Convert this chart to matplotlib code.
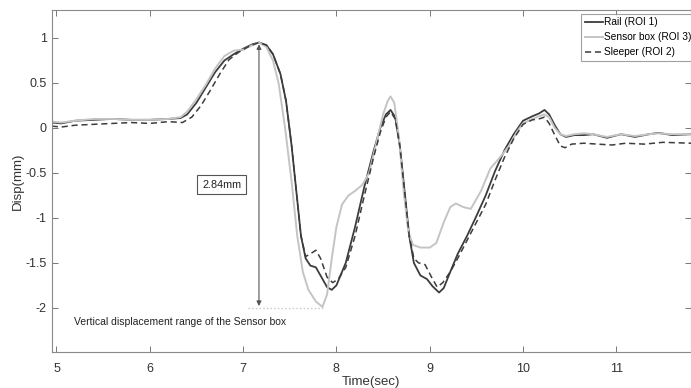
import matplotlib.pyplot as plt

plt.rcParams['font.family'] = ['Liberation Sans', 'DejaVu Sans']

# Rail (ROI 1)
t_rail = [4.95, 5.05, 5.2, 5.4, 5.6, 5.8, 6.0, 6.2, 6.33, 6.4, 6.5, 6.6, 6.7, 6.8, 6.9,
          7.0, 7.1, 7.17, 7.25, 7.32, 7.4, 7.46, 7.52, 7.57, 7.62, 7.67, 7.72, 7.78,
          7.84, 7.9, 7.95, 8.0, 8.1, 8.2, 8.3, 8.4, 8.47, 8.53, 8.58, 8.63, 8.68, 8.73,
          8.78, 8.83, 8.9, 8.97, 9.03, 9.1, 9.15, 9.22, 9.3, 9.4, 9.5, 9.6, 9.7, 9.8,
          9.9, 10.0, 10.1, 10.17, 10.23, 10.28, 10.34, 10.4, 10.46, 10.55, 10.65, 10.75,
          10.9, 11.05, 11.2, 11.35, 11.45, 11.6, 11.8]
d_rail = [0.06, 0.05, 0.08, 0.09, 0.1, 0.09, 0.09, 0.1, 0.11, 0.15, 0.28, 0.45, 0.62, 0.75, 0.82,
          0.88, 0.93, 0.95, 0.92, 0.82, 0.6, 0.3, -0.2, -0.7, -1.2, -1.45, -1.53, -1.55,
          -1.66, -1.77, -1.8, -1.75, -1.5, -1.1, -0.65, -0.25, 0.0, 0.15, 0.2, 0.12, -0.2, -0.7,
          -1.2, -1.5, -1.64, -1.68, -1.76, -1.83, -1.78, -1.6, -1.4, -1.2, -0.98, -0.75, -0.48, -0.25,
          -0.07, 0.08, 0.13, 0.16, 0.2, 0.15, 0.03, -0.07, -0.1, -0.08, -0.08, -0.07,
          -0.11, -0.07, -0.1, -0.07, -0.055, -0.08, -0.07]

# Sensor box (ROI 3)
t_box = [4.95, 5.05, 5.2, 5.4, 5.6, 5.8, 6.0, 6.2, 6.33, 6.4, 6.5, 6.6, 6.7, 6.8, 6.9,
         7.0, 7.1, 7.17, 7.25, 7.32, 7.38, 7.45, 7.52, 7.58, 7.64, 7.7, 7.78, 7.85,
         7.9, 7.95, 8.0, 8.06, 8.13, 8.2, 8.28, 8.35, 8.42, 8.5, 8.55, 8.58, 8.62, 8.67,
         8.72, 8.77, 8.82, 8.9, 9.0, 9.07, 9.15, 9.22, 9.28, 9.36, 9.44, 9.55, 9.65, 9.75,
         9.85, 9.93, 10.0, 10.1, 10.17, 10.23, 10.28, 10.34, 10.4, 10.46, 10.55, 10.65,
         10.75, 10.9, 11.05, 11.2, 11.35, 11.45, 11.6, 11.8]
d_box = [0.07, 0.06, 0.08, 0.1, 0.1, 0.09, 0.09, 0.1, 0.12, 0.18, 0.32, 0.48, 0.66, 0.8, 0.86,
         0.87, 0.92, 0.95, 0.9, 0.75, 0.5, 0.0, -0.6, -1.2, -1.6, -1.8, -1.93, -1.99,
         -1.85, -1.45, -1.1, -0.85, -0.75, -0.7, -0.63, -0.5, -0.2, 0.15, 0.3, 0.35, 0.28, -0.1,
         -0.7, -1.15, -1.3, -1.33, -1.33, -1.28, -1.05, -0.88, -0.84, -0.88, -0.9, -0.7, -0.45, -0.33,
         -0.2, -0.05, 0.05, 0.1, 0.13, 0.15, 0.12, 0.0, -0.07, -0.09, -0.07, -0.06,
         -0.07, -0.1, -0.07, -0.09, -0.07, -0.06, -0.07, -0.07]

# Sleeper (ROI 2)
t_slp = [4.95, 5.05, 5.2, 5.4, 5.6, 5.8, 6.0, 6.2, 6.35, 6.45, 6.55, 6.65, 6.75, 6.85, 6.95,
         7.05, 7.12, 7.17, 7.25, 7.32, 7.4, 7.46, 7.52, 7.57, 7.62, 7.67, 7.72, 7.78,
         7.83, 7.9, 7.96, 8.02, 8.1, 8.2, 8.3, 8.4, 8.47, 8.53, 8.58, 8.63, 8.68, 8.73,
         8.78, 8.83, 8.88, 8.95, 9.02, 9.08, 9.14, 9.22, 9.3, 9.4, 9.5, 9.6, 9.7, 9.8,
         9.9, 10.0, 10.1, 10.17, 10.23, 10.28, 10.34, 10.4, 10.45, 10.52, 10.65, 10.8,
         10.95, 11.1, 11.3, 11.5, 11.8]
d_slp = [0.02, 0.01, 0.03, 0.04, 0.05, 0.06, 0.05, 0.07, 0.06, 0.12, 0.25, 0.42, 0.6, 0.76, 0.84,
         0.9, 0.93, 0.95, 0.92, 0.82, 0.6, 0.3, -0.2, -0.7, -1.2, -1.43, -1.4, -1.36,
         -1.45, -1.66, -1.72, -1.68, -1.55, -1.2, -0.75, -0.32, -0.05, 0.12, 0.18, 0.1, -0.2, -0.7,
         -1.2, -1.45, -1.5, -1.52, -1.66, -1.77, -1.72, -1.6, -1.45, -1.25, -1.05, -0.85, -0.58, -0.33,
         -0.12, 0.04, 0.09, 0.1, 0.12, 0.05, -0.08, -0.2, -0.22, -0.18, -0.17, -0.18,
         -0.19, -0.17, -0.18, -0.16, -0.17]

peak_t = 7.17
box_max = 0.95
box_min = -2.0

fig = plt.figure(figsize=(6.91, 3.88), dpi=100)
ax = fig.add_axes([0.075, 0.093, 0.925, 0.881])

ax.plot(t_rail, d_rail, color='#3c3c3c', lw=1.3, label='Rail (ROI 1)')
ax.plot(t_box, d_box, color='#c4c4c4', lw=1.4, label='Sensor box (ROI 3)')
ax.plot(t_slp, d_slp, color='#3c3c3c', lw=1.1, ls=(0, (4, 2.5)), label='Sleeper (ROI 2)')

# range annotation
ax.plot([7.05, 7.87], [box_min, box_min], color='#c8c8c8', lw=1.0, ls=':')
ax.annotate('', xy=(peak_t, box_max - 0.02), xytext=(peak_t, box_min + 0.02),
            arrowprops=dict(arrowstyle='<|-|>', color='#555555', lw=0.8,
                            mutation_scale=7, shrinkA=0, shrinkB=0))
ax.text(6.77, -0.63, '2.84mm', fontsize=7.8, ha='center', va='center', color='#222222',
        bbox=dict(boxstyle='square,pad=0.45', fc='white', ec='#555555', lw=0.8))
ax.text(5.19, -2.16, 'Vertical displacement range of the Sensor box', fontsize=7.5,
        ha='left', va='center', color='#222222')

ax.set_xlim(4.95, 11.8)
ax.set_ylim(-2.49, 1.31)
ax.set_xticks([5, 6, 7, 8, 9, 10, 11])
ax.set_yticks([-2, -1.5, -1, -0.5, 0, 0.5, 1])
ax.set_yticklabels(['-2', '-1.5', '-1', '-0.5', '0', '0.5', '1'])
ax.tick_params(direction='in', length=4, width=0.7, colors='#777777', labelcolor='#333333',
               labelsize=9, top=True, right=True)
ax.tick_params(axis='x', pad=8)
for s in ax.spines.values():
    s.set_color('#8a8a8a')
    s.set_linewidth(0.8)

ax.set_xlabel('Time(sec)', fontsize=9.5, color='#333333', labelpad=1)
ax.set_ylabel('Disp(mm)', fontsize=9.5, color='#333333', labelpad=1)

leg = ax.legend(loc='upper left', bbox_to_anchor=(0.828, 0.99), fontsize=7.3, frameon=True,
                fancybox=False, handlelength=1.8, handletextpad=0.12, borderpad=0.35,
                labelspacing=0.5, borderaxespad=0.0)
leg.get_frame().set_edgecolor('#8a8a8a')
leg.get_frame().set_linewidth(0.8)

fig.savefig('out.png', dpi=100)
